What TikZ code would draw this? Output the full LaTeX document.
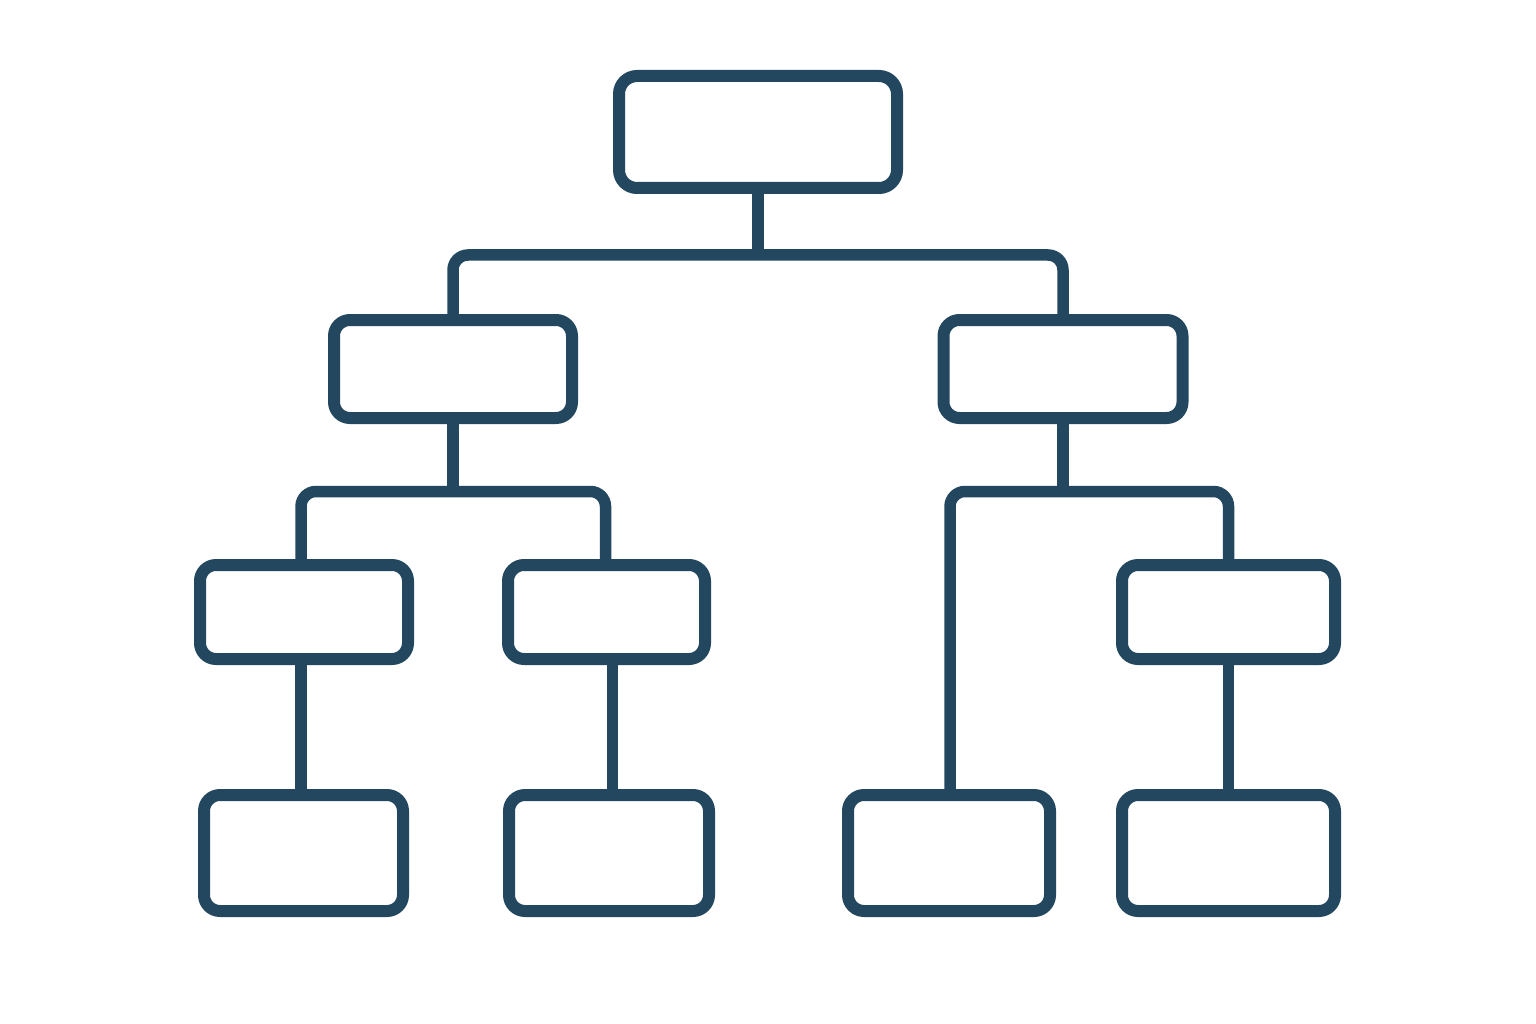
\documentclass[tikz,border=0pt]{standalone}
\usepackage{tikz}
\definecolor{navy}{RGB}{36,71,96}
\tikzset{
  box/.style={draw=navy, line width=12pt, rectangle, rounded corners=16pt, inner sep=0pt, outer sep=0pt, fill=white},
  link/.style={draw=navy, line width=11.5pt, rounded corners=15pt}
}
\begin{document}
\begin{tikzpicture}[x=1pt,y=-1pt]
\fill[white] (0,0) rectangle (1536,1024);
\useasboundingbox (0,0) rectangle (1536,1024);
% boxes
\node[box, rounded corners=18pt, minimum width=278pt, minimum height=112pt] (top) at (758,132) {};
\node[box, minimum width=238pt, minimum height=98pt] (L) at (453,369) {};
\node[box, minimum width=239pt, minimum height=98pt] (R) at (1063,369) {};
\node[box, minimum width=208pt, minimum height=94pt] (A) at (304,612) {};
\node[box, minimum width=197pt, minimum height=94pt] (B) at (606.5,612) {};
\node[box, minimum width=213pt, minimum height=94pt] (C) at (1228.5,612) {};
\node[box, minimum width=199pt, minimum height=116pt] (D) at (303.5,853) {};
\node[box, minimum width=200pt, minimum height=116pt] (E) at (609,853) {};
\node[box, minimum width=202pt, minimum height=116pt] (F) at (949,853) {};
\node[box, minimum width=213pt, minimum height=116pt] (G) at (1228.5,853) {};
% junction coordinates (bar levels and drop positions)
\coordinate (j1) at (758,255);
\coordinate (j2) at (453,491.5);
\coordinate (j3) at (1063,491.5);
\coordinate (a2) at (301,491.5);
\coordinate (b2) at (605.5,491.5);
\coordinate (f3) at (950,491.5);
\coordinate (c3) at (1228.5,491.5);
\coordinate (ad) at (301,700);
\coordinate (be) at (612.5,700);
% connectors
\path[link] (top.south) -- (top.south |- j1);
\path[link] (L.north) -- (L.north |- j1) -- (R.north |- j1) -- (R.north);
\path[link] (L.south) -- (j2);
\path[link] (a2 |- A.north) -- (a2) -- (b2) -- (b2 |- B.north);
\path[link] (R.south) -- (j3);
\path[link] (f3 |- F.north) -- (f3) -- (c3) -- (C.north);
\path[link] (ad |- A.south) -- (ad |- D.north);
\path[link] (be |- B.south) -- (be |- E.north);
\path[link] (C.south) -- (G.north);
\end{tikzpicture}
\end{document}
